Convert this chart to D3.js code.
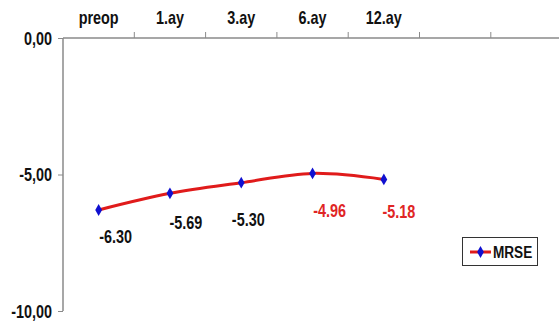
<!DOCTYPE html>
<html><head><meta charset="utf-8">
<script src="https://cdn.jsdelivr.net/npm/d3@7"></script>
<style>
html,body{margin:0;padding:0;background:#fff;}
svg text{font-family:"Liberation Sans Narrow","Arial Narrow","Liberation Sans",Arial,sans-serif;font-weight:bold;}
</style></head>
<body><svg id="c" width="559" height="324"></svg>
<script>
const categories = ["preop","1.ay","3.ay","6.ay","12.ay","",""];
const seriesName = "MRSE";
const values = [-6.30,-5.69,-5.30,-4.96,-5.18];
const valueLabels = ["-6.30","-5.69","-5.30","-4.96","-5.18"];
const labelColors = ["#111","#111","#111","#e02525","#e02525"];
const yTicks = [0,-5,-10];
const yTickLabels = ["0,00","-5,00","-10,00"];

// layout for data labels (pixel offsets from the point)
const labelDx = [17,16,7,17,15];
const labelDy = [27,29,37,37,32];

(function(){
const svg = d3.select("#c");
const mLeft = 63, mTop = 38, mBottom = 311, bandW = 71.3;
const SX = 0.8;
const x = d3.scaleBand().domain(categories.map((c,i)=>i)).range([mLeft, mLeft + bandW*categories.length]);
const y = d3.scaleLinear().domain([0,-10]).range([mTop, mBottom]);

const axisColor = "#8a8a8a";
// place text at (px,py) with horizontal condensing
function place(sel, px, py){
  sel.attr("x",0).attr("y",0).attr("transform", function(d,i){
    const X = typeof px === "function" ? px(d,i) : px;
    const Y = typeof py === "function" ? py(d,i) : py;
    return `translate(${X},${Y}) scale(${SX},1)`;
  });
}

// top category axis
const xAxis = d3.axisTop(x).tickSize(0).tickFormat(i => categories[i]);
const gx = svg.append("g").attr("transform",`translate(0,${mTop})`).call(xAxis);
gx.select(".domain").attr("stroke",axisColor).attr("stroke-width",1.5).attr("d",`M${mLeft},0H${mLeft + bandW*categories.length}`);
gx.selectAll("text").attr("font-size",18).attr("fill","#111").attr("dy",0).call(place, 0, -14);
gx.selectAll("line.bt").data(d3.range(1, categories.length+1)).enter().append("line")
  .attr("class","bt").attr("x1",d=>mLeft + d*bandW).attr("x2",d=>mLeft + d*bandW)
  .attr("y1",-6).attr("y2",0).attr("stroke",axisColor).attr("stroke-width",1);

// left value axis
const yAxis = d3.axisLeft(y).tickValues(yTicks).tickSize(5).tickPadding(5).tickFormat((d,i)=>yTickLabels[i]);
const gy = svg.append("g").attr("transform",`translate(${mLeft},0)`).call(yAxis);
gy.select(".domain").attr("stroke",axisColor).attr("stroke-width",1.5).attr("d",`M0,${mTop}V${mBottom}`);
gy.selectAll(".tick line").attr("stroke",axisColor);
gy.selectAll("text").attr("font-size",18).attr("fill","#111").attr("dy","0.35em").call(place, -11, 0);

const cx = i => x(i) + x.bandwidth()/2;

const line = d3.line().x((d,i)=>cx(i)).y(d=>y(d)).curve(d3.curveCatmullRom.alpha(0));
svg.append("path").datum(values).attr("d",line).attr("fill","none").attr("stroke","#e01b1b").attr("stroke-width",3);

const diamond = d3.symbol().type(d3.symbolDiamond).size(40);
svg.selectAll("path.m").data(values).enter().append("path").attr("class","m")
  .attr("d",diamond).attr("transform",(d,i)=>`translate(${cx(i)},${y(d)})`).attr("fill","#1010d0");

svg.selectAll("text.dl").data(values).enter().append("text").attr("class","dl")
  .attr("dy","0.35em")
  .attr("text-anchor","middle").attr("font-size",18).attr("fill",(d,i)=>labelColors[i])
  .text((d,i)=>valueLabels[i])
  .call(place, (d,i)=>cx(i)+labelDx[i], (d,i)=>y(d)+labelDy[i]);

const lg = svg.append("g").attr("transform","translate(462,237)");
lg.append("rect").attr("x",0.5).attr("y",0.5).attr("width",75).attr("height",28).attr("fill","#fff").attr("stroke","#333").attr("stroke-width",1);
lg.append("line").attr("x1",8).attr("x2",29).attr("y1",15).attr("y2",15).attr("stroke","#e01b1b").attr("stroke-width",3);
lg.append("path").attr("d",diamond).attr("transform","translate(18.5,15)").attr("fill","#1010d0");
lg.append("text").attr("dy","0.35em").attr("font-size",17).attr("fill","#111").text(seriesName).call(place, 31, 15);
})();
</script></body></html>
